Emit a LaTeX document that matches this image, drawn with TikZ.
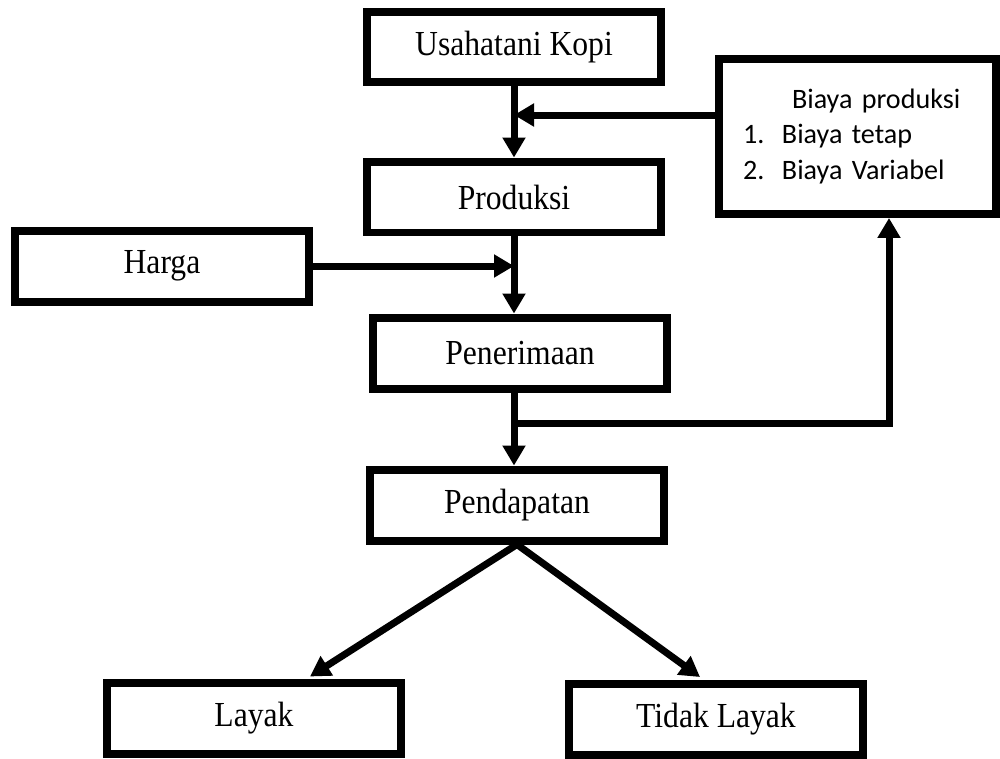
\documentclass[tikz,border=0pt]{standalone}
\usepackage{fontspec}
\setmainfont[FakeStretch=0.9]{Liberation Serif}
\newfontfamily\calibri{Carlito}
\usetikzlibrary{arrows.meta}

\begin{document}
\begin{tikzpicture}[x=0.02cm, y=-0.02cm,
    kotak/.style={draw, line width=0.16cm, minimum width=5.88cm, minimum height=1.42cm, inner sep=0pt, font=\fontsize{20}{24}\selectfont},
    panah/.style={line width=0.14cm, -{Triangle[length=0.4cm,width=0.44cm]}},
    garis/.style={line width=0.14cm}]
    \useasboundingbox (0,0) rectangle (1000,758);
    % kotak-kotak
    \node[kotak] (kopi) at (514,47) {Usahatani Kopi};
    \node[kotak] (produksi) at (514,197) {Produksi};
    \node[kotak] (harga) at (162,266) {Harga};
    \node[kotak] (penerimaan) at (520,353) {Penerimaan};
    \node[kotak] (pendapatan) at (517,505) {Pendapatan};
    \node[kotak] (layak) at (254,718) {Layak};
    \node[kotak] (tidak) at (716,719) {Tidak Layak};
    \node[draw, line width=0.16cm, minimum width=5.54cm, minimum height=3.1cm, inner sep=0pt,
          text width=5.54cm, align=left, font=\calibri\fontsize{16}{20}\selectfont] (biaya) at (857.5,136.5)
        {\hspace*{1.46cm}Biaya produksi\\
         \hspace*{0.48cm}\makebox[0.78cm][l]{1.}Biaya tetap\\
         \hspace*{0.48cm}\makebox[0.78cm][l]{2.}Biaya Variabel};
    % titik cabang
    \coordinate (j1) at (514,115);
    \coordinate (j2) at (514,266);
    \coordinate (j3) at (514,423);
    \coordinate (j4) at (889,423);
    % panah
    \draw[panah] (kopi) -- (produksi);
    \draw[panah] (biaya.west |- j1) -- (j1);
    \draw[panah] (produksi.south) -- (produksi.south |- penerimaan.north);
    \draw[panah] (harga.east |- j2) -- (j2);
    \draw[garis] (j3 |- penerimaan.south) -- (j3);
    \draw[panah] (j3) -- (j3 |- pendapatan.north);
    \draw[panah] (j3) -- (j4) -- (j4 |- biaya.south);
    \draw[panah] (pendapatan.south) -- ([xshift=1.12cm,yshift=0.04cm]layak.north);
    \draw[panah] (pendapatan.south) -- ([xshift=-0.32cm,yshift=0.05cm]tidak.north);
\end{tikzpicture}
\end{document}
